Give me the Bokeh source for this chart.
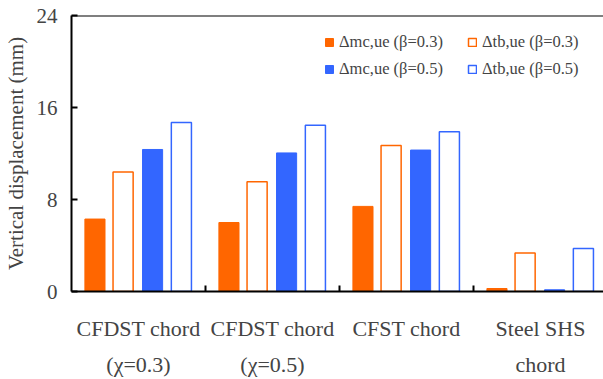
from bokeh.plotting import figure
from bokeh.models import (ColumnDataSource, FixedTicker, Legend, LegendItem, Span)
from bokeh.transform import dodge
from bokeh.embed import file_html
from bokeh.resources import INLINE

categories = ["CFDST chord\n(χ=0.3)", "CFDST chord\n(χ=0.5)", "CFST chord", "Steel SHS\nchord"]
mc_b03 = [6.3, 6.0, 7.4, 0.26]
tb_b03 = [10.4, 9.55, 12.7, 3.35]
mc_b05 = [12.35, 12.05, 12.3, 0.15]
tb_b05 = [14.7, 14.45, 13.9, 3.75]
y_ticks = [0, 8, 16, 24]

ORANGE = "#FF6600"
BLUE = "#3366FF"
FONT = "Liberation Serif, serif"

centers = [i + 0.5 for i in range(len(categories))]
src = ColumnDataSource(dict(x=centers, mc3=mc_b03, tb3=tb_b03, mc5=mc_b05, tb5=tb_b05))

p = figure(width=603, height=379, output_backend="svg", toolbar_location=None,
           x_range=(0, 3.97), y_range=(0, 24),
           min_border_left=69, min_border_right=0, min_border_top=15, min_border_bottom=87)
p.outline_line_color = None
p.grid.visible = False
p.background_fill_color = "white"

bw = 0.15
r1 = p.vbar(x=dodge("x", -0.325), top="mc3", width=bw, source=src,
            fill_color=ORANGE, line_color=ORANGE)
r2 = p.vbar(x=dodge("x", -0.115), top="tb3", width=bw, source=src,
            fill_color=None, line_color=ORANGE, line_width=1.5)
r3 = p.vbar(x=dodge("x", 0.105), top="mc5", width=bw, source=src,
            fill_color=BLUE, line_color=BLUE)
r4 = p.vbar(x=dodge("x", 0.32), top="tb5", width=bw, source=src,
            fill_color=None, line_color=BLUE, line_width=1.5)

# y axis
ya = p.yaxis[0]
ya.ticker = FixedTicker(ticks=y_ticks)
ya.axis_label = "Vertical displacement (mm)"
ya.axis_label_text_font = FONT
ya.axis_label_text_font_style = "normal"
ya.axis_label_text_font_size = "21px"
ya.axis_label_standoff = 6
ya.major_label_text_font = FONT
ya.major_label_text_font_size = "21px"
ya.major_label_standoff = 14
ya.axis_line_width = 2
ya.major_tick_in = 6
ya.major_tick_out = 0
ya.major_tick_line_width = 2
ya.minor_tick_line_color = None

# x axis: labels at group centres, boundary marks as minor ticks
xa = p.xaxis[0]
xa.ticker = FixedTicker(ticks=centers, minor_ticks=[1, 2, 3])
xa.major_label_overrides = {c: lab for c, lab in zip(centers, categories)}
xa.major_label_text_font = FONT
xa.major_label_text_font_size = "22px"
xa.major_label_text_line_height = 1.45
xa.major_label_standoff = 18
xa.axis_line_width = 2
xa.major_tick_line_color = None
xa.minor_tick_in = 6
xa.minor_tick_out = 0
xa.minor_tick_line_width = 2

# top border line
p.add_layout(Span(location=24, dimension="width", line_color="black", line_width=2))


def make_legend(items, loc):
    lg = Legend(items=items, location=loc)
    lg.label_text_font = FONT
    lg.label_text_font_size = "16.5px"
    lg.glyph_width = 10
    lg.glyph_height = 10
    lg.label_standoff = 5
    lg.label_height = 20
    lg.spacing = 7
    lg.padding = 2
    lg.margin = 0
    lg.border_line_color = None
    lg.background_fill_alpha = 0
    return lg


p.add_layout(make_legend([
    LegendItem(label="Δmc,ue (β=0.3)", renderers=[r1]),
    LegendItem(label="Δmc,ue (β=0.5)", renderers=[r3]),
], (253, 212)))
p.add_layout(make_legend([
    LegendItem(label="Δtb,ue (β=0.3)", renderers=[r2]),
    LegendItem(label="Δtb,ue (β=0.5)", renderers=[r4]),
], (396, 212)))

open("out.html", "w").write(file_html(p, INLINE))
